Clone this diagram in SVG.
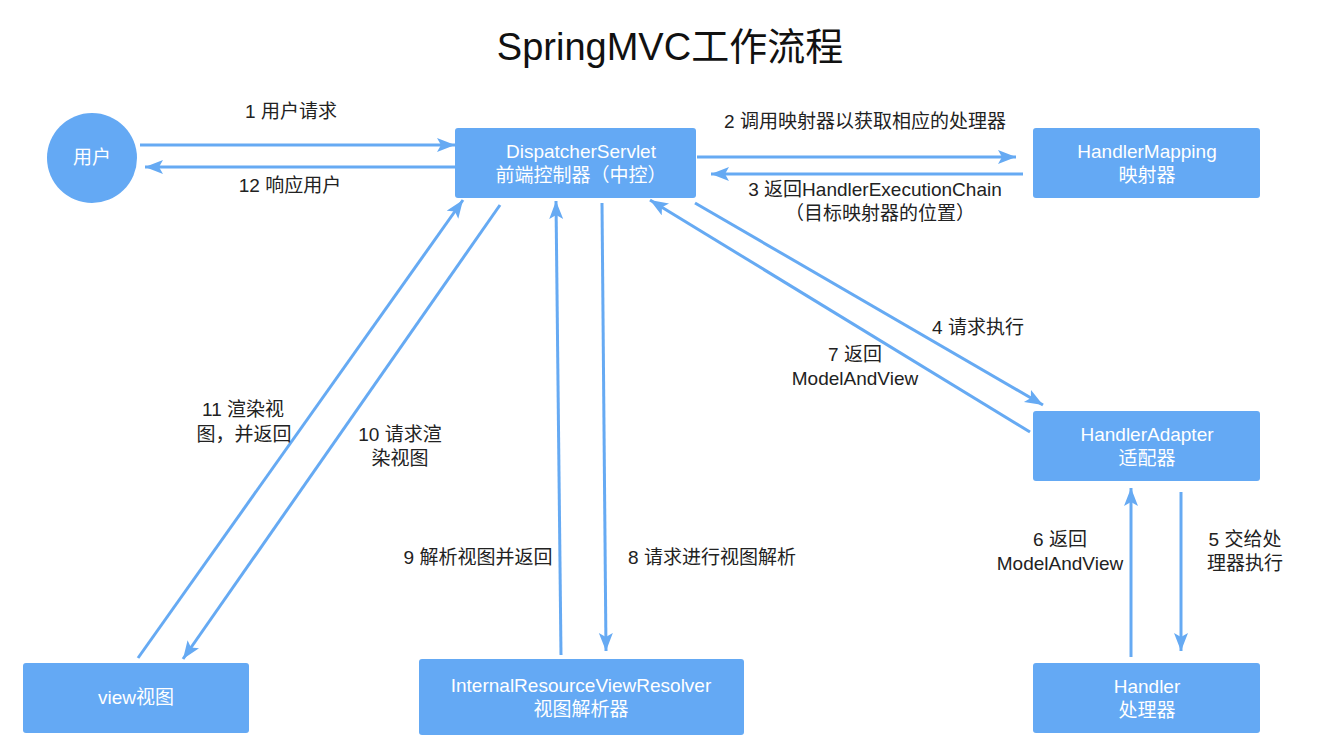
<svg xmlns="http://www.w3.org/2000/svg" width="1320" height="748" viewBox="0 0 1320 748">
<defs>
<marker id="ah" markerUnits="userSpaceOnUse" markerWidth="20" markerHeight="16" refX="18" refY="7" orient="auto">
<path d="M0,0 L18,7 L0,14 L4,7 z" fill="#66aaf3"/>
</marker>
<style>
.box{fill:#64a9f4;}
.bt{font-family:"Liberation Sans","Noto Sans CJK SC",sans-serif;font-size:19px;fill:#ffffff;text-anchor:middle;}
.lb{font-family:"Liberation Sans","Noto Sans CJK SC",sans-serif;font-size:19px;fill:#222222;text-anchor:middle;}
.cn{stroke:#66aaf3;stroke-width:3;fill:none;marker-end:url(#ah);}
.title{font-family:"Liberation Sans","Noto Sans CJK SC",sans-serif;font-size:38px;fill:#111111;text-anchor:middle;}
</style>
</defs>
<rect width="1320" height="748" fill="#ffffff"/>
<text class="title" x="670" y="60">SpringMVC工作流程</text>

<g id="connectors">
<line class="cn" x1="140" y1="145" x2="455" y2="145"/>
<line class="cn" x1="455" y1="167" x2="145" y2="167"/>
<line class="cn" x1="697" y1="157" x2="1016" y2="157"/>
<line class="cn" x1="1023" y1="174" x2="711" y2="174"/>
<line class="cn" x1="695" y1="203" x2="1043" y2="405"/>
<line class="cn" x1="1030" y1="432" x2="650" y2="200"/>
<line class="cn" x1="1131" y1="657" x2="1131" y2="488"/>
<line class="cn" x1="1181" y1="492" x2="1181" y2="651"/>
<line class="cn" x1="602" y1="203" x2="606" y2="651"/>
<line class="cn" x1="561" y1="655" x2="556" y2="201"/>
<line class="cn" x1="500" y1="205" x2="183" y2="659"/>
<line class="cn" x1="138" y1="658" x2="463" y2="200"/>
</g>

<g id="labels">
<text class="lb" x="291" y="118">1 用户请求</text>
<text class="lb" x="290" y="192">12 响应用户</text>
<text class="lb" x="865" y="128">2 调用映射器以获取相应的处理器</text>
<text class="lb" x="875" y="196">3 返回HandlerExecutionChain</text>
<text class="lb" x="880" y="220">（目标映射器的位置）</text>
<text class="lb" x="978" y="334">4 请求执行</text>
<text class="lb" x="855" y="361">7 返回</text>
<text class="lb" x="855" y="385">ModelAndView</text>
<text class="lb" x="243" y="416">11 渲染视</text>
<text class="lb" x="244" y="441">图，并返回</text>
<text class="lb" x="400" y="441">10 请求渲</text>
<text class="lb" x="400" y="465">染视图</text>
<text class="lb" x="478" y="564">9 解析视图并返回</text>
<text class="lb" x="712" y="564">8 请求进行视图解析</text>
<text class="lb" x="1060" y="546">6 返回</text>
<text class="lb" x="1060" y="570">ModelAndView</text>
<text class="lb" x="1245" y="546">5 交给处</text>
<text class="lb" x="1245" y="570">理器执行</text>
</g>

<g id="user">
<ellipse class="box" cx="92" cy="158" rx="45" ry="45"/>
<text class="bt" x="92" y="164">用户</text>
</g>
<g id="dispatcher">
<rect class="box" x="455" y="128" width="241" height="70" rx="3"/>
<text class="bt" x="581" y="158">DispatcherServlet</text>
<text class="bt" x="581" y="182">前端控制器（中控）</text>
</g>
<g id="handlerMapping">
<rect class="box" x="1033" y="128" width="227" height="70" rx="3"/>
<text class="bt" x="1147" y="158">HandlerMapping</text>
<text class="bt" x="1147" y="182">映射器</text>
</g>
<g id="handlerAdapter">
<rect class="box" x="1033" y="411" width="227" height="70" rx="3"/>
<text class="bt" x="1147" y="441">HandlerAdapter</text>
<text class="bt" x="1147" y="465">适配器</text>
</g>
<g id="handler">
<rect class="box" x="1033" y="663" width="227" height="70" rx="3"/>
<text class="bt" x="1147" y="693">Handler</text>
<text class="bt" x="1147" y="717">处理器</text>
</g>
<g id="view">
<rect class="box" x="23" y="663" width="226" height="70" rx="3"/>
<text class="bt" x="136" y="704">view视图</text>
</g>
<g id="viewResolver">
<rect class="box" x="419" y="659" width="325" height="76" rx="3"/>
<text class="bt" x="581" y="692">InternalResourceViewResolver</text>
<text class="bt" x="581" y="716">视图解析器</text>
</g>
</svg>
